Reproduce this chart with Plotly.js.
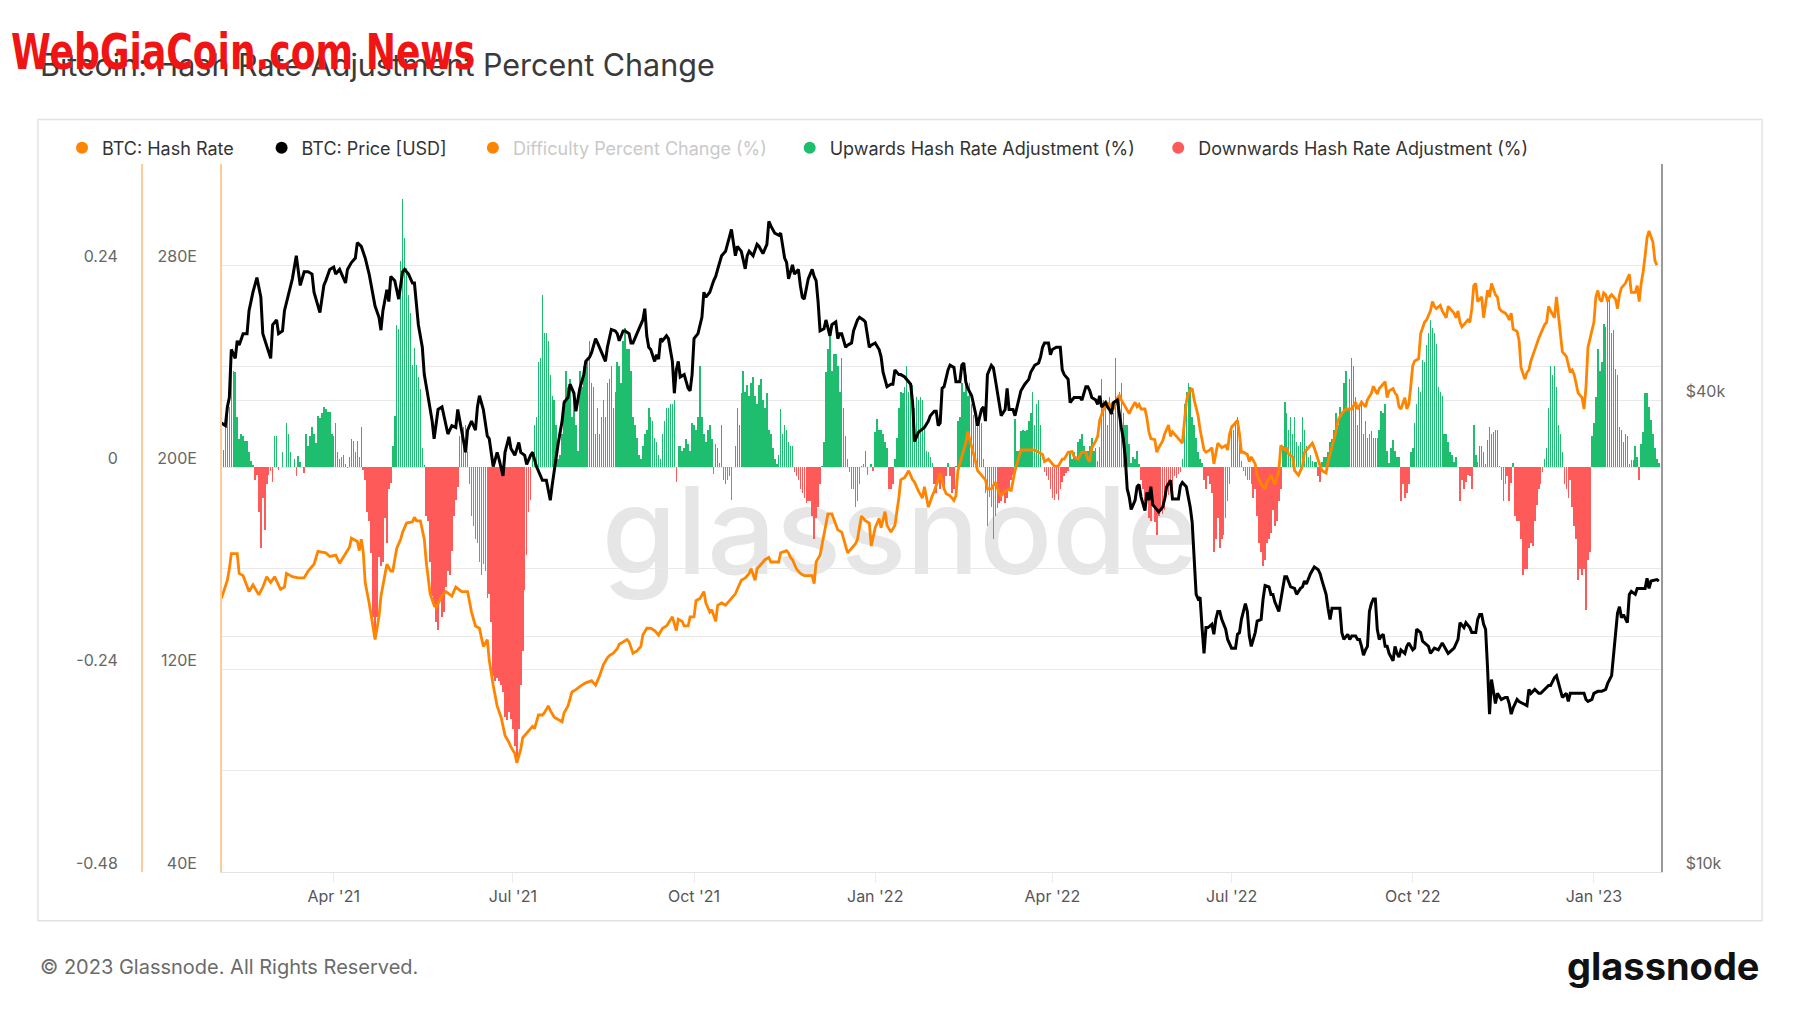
<!DOCTYPE html>
<html>
<head>
<meta charset="utf-8">
<script src="https://cdn.plot.ly/plotly-3.0.1.min.js"></script>
<style>
html,body{margin:0;padding:0;background:#ffffff;}
#chart{width:1800px;height:1013px;}
</style>
</head>
<body>
<div id="chart"></div>
<script>
// ---------------- DATA ----------------
const startDate = [2021, 1, 3]; // 2021-02-03, day 0 of the series below

// BTC: Hash Rate [EH/s]  -> [day offset, value]
const hashRateSeries = [[0,148.2],[3,155.4],[4,159.9],[5,165.9],[8,165.9],[9,158.1],[11,157.2],[14,150.9],[16,153.6],[19,149.6],[21,152.7],[23,156.8],[25,154.5],[27,156.8],[30,151.8],[32,152.7],[33,158.1],[36,156.8],[39,156.3],[42,156.3],[44,159.0],[47,161.7],[49,166.8],[53,166.2],[55,164.8],[58,165.3],[60,162.1],[63,166.2],[65,168.4],[66,172.0],[69,170.7],[70,167.1],[71,171.6],[72,166.6],[73,154.5],[75,146.4],[76,141.0],[78,131.9],[80,141.0],[81,149.1],[84,161.7],[86,159.0],[87,159.0],[89,168.0],[91,171.6],[92,174.4],[94,178.0],[97,178.5],[98,180.3],[99,178.9],[101,178.9],[103,171.6],[104,162.6],[106,150.0],[108,145.5],[109,144.6],[112,149.1],[114,150.9],[117,149.1],[119,152.7],[122,150.9],[125,150.9],[127,142.8],[129,137.3],[131,136.4],[133,129.2],[135,131.9],[136,123.8],[138,113.9],[140,105.7],[142,101.2],[144,94.0],[146,91.3],[147,89.5],[149,86.8],[150,83.2],[152,88.6],[153,93.1],[155,94.9],[158,97.6],[159,96.7],[161,102.1],[163,102.1],[164,103.0],[166,105.7],[167,103.9],[169,101.2],[171,100.3],[173,99.4],[174,103.0],[176,105.7],[178,111.2],[180,112.1],[183,113.9],[185,114.8],[188,115.7],[190,113.9],[192,117.5],[194,122.0],[196,124.7],[197,125.6],[199,126.5],[201,128.3],[202,130.1],[204,131.0],[206,131.9],[207,131.0],[209,126.5],[211,127.4],[213,129.2],[214,133.7],[216,136.4],[218,136.4],[220,135.5],[222,133.7],[224,136.4],[226,137.3],[228,140.0],[229,140.9],[231,135.5],[232,140.0],[234,139.1],[235,137.3],[237,137.3],[238,140.9],[240,140.9],[241,147.3],[243,148.2],[245,150.9],[246,146.4],[248,142.8],[249,143.7],[251,139.1],[252,145.5],[254,146.4],[256,145.5],[257,146.4],[259,148.2],[261,150.0],[262,151.8],[264,155.4],[266,156.3],[268,158.1],[269,159.9],[271,155.4],[272,159.9],[274,161.7],[276,163.5],[278,164.4],[279,162.6],[281,162.6],[283,162.6],[284,166.2],[287,167.1],[288,166.2],[289,164.4],[290,163.5],[292,159.9],[294,158.1],[296,157.2],[298,157.2],[300,157.2],[301,154.0],[302,162.6],[304,165.3],[306,173.5],[308,181.6],[310,181.6],[312,177.1],[313,175.3],[315,174.4],[317,168.9],[318,166.2],[320,168.0],[322,169.8],[323,171.6],[325,180.7],[327,178.9],[329,178.0],[330,168.9],[332,176.2],[334,179.8],[335,176.2],[337,182.5],[338,177.1],[340,174.4],[342,177.1],[344,187.9],[345,195.1],[347,196.0],[349,198.7],[351,195.1],[352,194.2],[354,190.6],[356,187.9],[357,192.4],[359,184.3],[361,188.8],[362,190.6],[364,195.1],[365,197.8],[367,191.5],[368,189.7],[370,188.8],[372,187.0],[373,188.8],[374,198.7],[376,204.2],[378,209.6],[379,214.1],[380,211.4],[381,207.8],[383,202.3],[384,198.7],[386,196.9],[388,195.1],[389,191.5],[391,191.5],[393,194.2],[395,189.7],[396,188.8],[398,190.6],[400,191.5],[401,190.6],[403,198.7],[405,204.2],[406,206.9],[408,206.9],[410,206.9],[411,206.9],[413,206.9],[415,206.0],[417,205.1],[418,202.3],[420,203.3],[422,201.4],[423,200.5],[425,200.5],[427,203.3],[428,203.3],[430,206.0],[432,206.3],[433,204.2],[435,203.3],[437,206.0],[439,206.0],[440,203.3],[441,202.3],[442,207.8],[444,210.5],[445,212.3],[446,218.6],[447,221.3],[448,223.1],[450,225.8],[451,224.0],[452,224.9],[453,223.1],[455,227.6],[456,228.5],[457,226.7],[459,224.0],[460,223.1],[461,221.3],[462,223.1],[464,225.8],[465,224.0],[466,224.9],[467,223.1],[469,223.1],[470,219.5],[471,214.1],[472,211.4],[474,211.0],[475,206.0],[476,207.8],[478,210.5],[479,213.2],[481,216.8],[482,212.3],[483,214.1],[485,212.3],[487,210.5],[488,209.6],[490,225.8],[491,229.4],[493,231.2],[494,226.7],[496,220.4],[497,215.0],[499,206.9],[500,206.0],[502,206.9],[503,207.8],[504,201.4],[505,206.0],[506,209.6],[507,208.7],[508,207.8],[510,208.7],[511,206.9],[512,213.2],[513,215.9],[515,217.7],[516,218.6],[517,213.2],[518,206.0],[519,206.0],[521,205.1],[522,202.3],[523,204.2],[525,201.4],[526,196.9],[527,195.1],[528,193.3],[530,191.5],[531,194.2],[533,196.9],[534,195.1],[535,193.3],[537,198.7],[538,208.7],[540,206.9],[541,207.8],[542,205.1],[544,204.2],[545,198.7],[547,196.9],[549,200.5],[550,206.0],[552,207.8],[554,209.6],[555,207.8],[557,202.3],[558,200.5],[559,198.7],[561,197.8],[562,202.3],[564,207.8],[566,214.1],[567,218.6],[569,221.3],[571,223.1],[572,223.1],[574,223.1],[576,225.8],[577,223.1],[579,225.8],[581,224.0],[582,226.7],[584,229.4],[585,232.1],[587,229.0],[588,231.2],[590,233.0],[591,233.9],[592,227.6],[593,230.3],[595,231.2],[596,229.4],[597,228.5],[598,224.0],[599,223.1],[601,227.6],[602,223.1],[603,224.9],[604,232.1],[605,240.3],[606,242.1],[608,243.0],[609,252.9],[611,257.4],[612,258.3],[614,261.9],[615,265.6],[616,263.7],[617,262.8],[618,263.4],[619,264.1],[620,261.9],[622,259.2],[623,263.7],[624,262.8],[626,261.0],[627,259.2],[628,261.9],[629,257.4],[630,255.6],[631,256.5],[633,258.3],[634,257.4],[635,262.8],[636,271.9],[637,272.8],[638,265.6],[640,267.4],[641,259.2],[642,265.6],[643,270.1],[644,267.4],[645,272.8],[647,268.3],[648,267.4],[649,262.8],[650,261.9],[652,261.0],[653,260.1],[654,258.3],[655,261.0],[656,254.7],[658,253.8],[659,250.2],[660,239.4],[662,234.9],[663,237.6],[664,238.5],[665,242.1],[667,246.6],[668,249.3],[669,251.1],[670,252.9],[672,256.5],[673,257.4],[674,263.7],[675,261.9],[677,259.2],[678,267.4],[679,260.1],[680,253.8],[681,245.7],[683,243.9],[684,241.2],[685,237.6],[686,238.5],[687,236.7],[689,229.4],[690,228.5],[691,227.6],[692,223.1],[693,232.0],[694,247.5],[696,254.7],[697,257.4],[698,267.4],[699,270.0],[700,266.5],[701,265.6],[702,269.0],[703,268.3],[704,265.6],[705,267.4],[706,268.3],[708,266.5],[709,262.8],[710,268.3],[711,271.0],[713,272.8],[714,274.6],[715,276.4],[716,269.2],[718,269.2],[719,271.9],[720,265.6],[721,272.8],[722,277.3],[723,283.6],[724,290.8],[725,293.5],[726,290.8],[727,289.0],[728,281.8],[729,280.0]];

// BTC: Price [USD]  -> [day offset, value]
const priceSeries = [[0,37400],[2,37100],[3,39200],[4,40300],[5,46400],[7,45200],[8,47600],[9,47000],[11,48600],[13,48600],[14,52000],[16,54900],[18,57300],[20,54100],[21,48600],[23,46700],[25,45200],[26,49900],[28,50600],[29,48600],[31,49000],[32,52000],[34,54500],[36,57100],[38,61100],[40,56000],[42,58300],[44,58300],[46,57900],[47,54900],[50,51700],[52,56000],[53,56800],[55,58700],[57,59100],[58,57900],[60,58700],[63,56400],[64,58700],[66,59900],[68,60700],[69,63500],[71,62800],[73,60700],[75,57900],[76,56000],[78,52700],[80,51000],[81,49100],[82,52000],[84,55300],[85,53400],[86,57500],[88,56800],[90,53800],[92,58300],[93,58700],[95,57900],[97,56400],[98,56400],[100,49900],[102,46700],[103,43100],[105,40300],[107,37600],[108,35700],[110,38900],[112,39200],[114,37400],[115,36200],[117,37100],[119,36900],[120,38900],[122,36600],[124,34300],[125,36600],[127,37600],[129,36600],[130,39200],[131,40500],[133,38900],[135,36000],[136,35700],[138,32900],[140,34300],[141,33600],[143,32000],[144,34300],[146,35900],[147,34700],[149,34000],[151,35300],[152,34300],[154,34000],[155,33100],[157,34000],[158,34300],[160,32900],[162,32000],[163,31600],[165,31600],[167,29800],[168,31200],[169,32500],[171,35200],[173,37600],[174,39700],[176,40300],[177,41900],[179,40800],[180,38700],[182,41400],[184,43100],[185,44800],[187,45400],[188,46000],[190,47900],[191,47300],[193,46000],[195,44800],[196,46700],[198,49200],[200,49000],[201,48600],[202,47600],[204,49000],[205,49000],[207,48600],[208,47300],[209,47300],[211,48600],[213,49900],[214,50600],[215,52300],[216,48300],[217,46700],[218,46400],[220,44800],[221,45700],[222,45100],[223,47900],[224,47600],[226,48300],[227,47900],[229,44800],[230,40800],[231,43700],[232,44800],[233,42800],[235,43100],[237,41400],[238,41100],[239,43100],[240,47900],[242,48600],[244,51000],[245,54900],[246,54100],[248,54900],[250,56800],[251,57500],[252,58700],[254,61100],[256,61900],[257,63200],[259,66000],[261,61100],[262,62800],[264,61900],[266,58800],[267,61100],[268,61900],[270,61100],[272,63200],[273,62800],[275,61500],[277,63200],[278,67600],[279,66700],[281,65300],[283,64900],[284,65300],[286,60700],[287,59900],[288,57100],[290,59500],[291,57900],[293,58700],[294,56000],[295,54100],[296,53800],[298,57100],[299,57900],[300,58700],[301,57500],[302,56800],[303,53400],[304,49000],[306,49300],[307,50600],[309,48300],[310,49900],[312,50300],[313,47900],[314,48600],[315,48600],[317,46700],[318,47000],[320,47300],[321,49000],[323,50600],[324,51000],[326,50600],[327,50300],[329,46700],[330,47000],[332,47300],[334,46400],[335,45400],[336,43400],[338,41600],[340,41900],[341,41900],[342,43700],[344,43100],[345,43100],[347,42800],[348,42500],[350,41900],[351,39700],[352,35400],[354,36400],[355,36600],[357,36900],[359,37600],[360,38200],[362,38700],[363,38700],[364,37100],[365,37400],[366,41400],[367,41600],[369,43700],[370,44300],[372,44000],[373,42200],[375,42200],[376,44300],[377,44600],[378,42200],[379,41400],[381,40500],[383,38400],[384,37100],[386,38900],[387,39200],[388,37600],[389,43100],[391,44300],[392,44000],[393,42500],[395,39700],[396,38200],[398,38900],[399,41400],[400,38900],[402,38900],[403,38200],[404,39200],[406,41100],[408,41900],[410,42500],[411,43400],[413,44300],[415,44600],[416,45400],[417,46700],[418,47300],[420,47300],[421,45700],[422,46400],[424,46700],[426,46700],[427,43700],[428,43100],[430,42500],[431,39700],[433,40300],[434,40300],[436,40300],[437,40000],[439,41600],[440,41600],[441,41100],[442,40300],[444,40000],[445,39500],[446,40500],[447,39200],[449,39700],[450,39200],[451,38900],[452,38400],[453,39700],[455,40000],[456,38200],[457,36900],[458,35700],[459,33800],[460,30800],[461,30100],[462,29000],[463,29400],[464,29800],[465,31000],[466,31200],[467,30100],[469,28900],[470,30500],[471,29800],[472,31000],[473,29400],[474,29200],[476,28800],[478,29200],[479,29900],[480,31000],[482,31600],[483,29900],[484,29900],[486,29900],[487,31100],[488,31400],[490,31000],[491,30100],[492,29200],[493,27900],[494,25300],[495,22600],[496,22300],[497,22400],[498,20500],[499,19000],[500,20500],[501,20500],[503,20700],[504,20100],[505,21000],[506,21500],[507,21500],[508,21000],[510,20400],[511,19800],[513,19300],[515,19300],[516,20100],[517,20200],[518,21000],[520,22000],[521,21500],[522,20000],[523,19400],[525,20200],[526,20900],[528,21000],[529,22300],[530,23200],[532,23100],[533,22600],[534,22600],[535,22100],[537,21500],[538,22300],[540,23800],[541,23800],[542,23500],[543,23100],[545,23000],[546,22600],[548,23000],[549,23100],[550,23500],[551,23300],[553,24000],[554,24300],[555,24500],[557,24300],[558,24000],[559,23500],[561,22600],[562,21700],[563,21000],[564,21700],[565,21700],[567,21700],[568,21700],[569,20200],[570,19800],[572,20100],[573,19800],[574,20000],[576,20000],[577,19800],[578,19800],[579,19400],[580,18900],[581,19200],[582,19400],[583,21500],[584,22000],[585,22300],[586,22300],[587,20400],[588,19800],[589,20000],[590,20100],[591,19400],[592,19400],[593,19000],[595,18600],[596,19400],[597,19000],[598,18800],[599,19200],[601,19000],[602,19400],[603,19600],[605,19200],[606,19300],[607,20400],[609,20200],[610,19700],[611,19600],[613,19400],[614,19000],[616,19300],[618,19200],[619,19400],[620,19600],[622,19200],[623,19000],[625,19200],[626,19300],[628,19800],[629,20800],[631,20500],[632,20800],[634,20500],[635,20200],[637,20200],[638,21000],[639,21300],[640,21300],[641,20700],[642,20400],[643,18200],[644,15900],[645,17600],[646,17000],[647,16400],[648,16900],[650,16600],[652,16700],[653,16700],[654,16400],[655,15900],[656,16200],[658,16600],[659,16500],[661,16400],[663,16300],[664,17100],[665,16900],[667,17100],[669,16900],[670,16900],[672,17100],[674,17300],[675,17300],[677,17700],[678,17800],[680,17000],[681,16700],[683,16900],[684,16500],[685,16900],[686,16900],[688,16900],[690,16900],[692,16900],[693,16600],[694,16500],[696,16600],[697,16900],[699,17000],[701,17000],[703,17100],[704,17400],[706,17800],[707,18900],[708,20000],[709,21400],[710,21800],[711,21100],[712,21300],[714,20800],[715,22600],[716,22800],[718,22600],[719,23000],[721,23000],[722,23000],[723,23000],[724,23700],[725,23000],[726,23500],[728,23600],[729,23600],[730,23500]];

// Hash Rate Adjustment (%) - one value per day from startDate
const adjustmentPct = [
0.02,0.021,0.05,0.072,0.072,0.126,0.115,0.113,0.06,0.034,
0.04,0.037,0.031,0.031,0.018,0.008,0.003,-0.015,-0.009,-0.053,
-0.095,-0.036,-0.074,-0.02,-0.009,-0.004,-0.017,0.037,0.037,-0.003,
0,0.018,0,0.053,0.04,0.018,0,0.01,-0.01,0.013,
0.007,0,-0.007,0.04,0.026,0.037,0.048,0.04,0.029,0.061,
0.059,0.064,0.072,0.069,0.066,0.066,0.04,0.037,0.053,0.018,
0.01,0.012,0.015,0.004,-0.001,0.012,0.034,0.031,0.018,0.031,
0.012,0.048,-0.003,-0.015,-0.053,-0.063,-0.101,-0.177,-0.204,-0.177,
-0.106,-0.117,-0.112,-0.06,-0.09,-0.026,-0.018,0.026,0.061,0.169,
0.164,0.245,0.318,0.272,0.237,0.205,0.183,0.121,0.142,0.121,
0.107,0.093,0.023,0.003,-0.058,-0.063,-0.112,-0.153,-0.166,-0.183,
-0.193,-0.155,-0.177,-0.171,-0.142,-0.123,-0.128,-0.099,-0.058,-0.039,
-0.023,0.037,0.037,0.048,0.05,0.018,-0.02,-0.058,-0.069,-0.085,
-0.09,-0.112,-0.128,-0.115,-0.123,-0.155,-0.15,-0.183,-0.248,-0.253,
-0.25,-0.253,-0.258,-0.267,-0.296,-0.3,-0.29,-0.299,-0.31,-0.33,
-0.345,-0.31,-0.258,-0.218,-0.145,-0.104,-0.053,-0.039,0.02,0.05,
0.06,0.125,0.13,0.205,0.16,0.16,0.15,0.11,0.085,0.08,
0.05,0.01,0.015,0.04,0.08,0.115,0.095,0.105,0.06,0.09,
0.05,0.02,0.115,0.095,0.12,0.12,0.125,0.15,0.1,0.095,
0.04,0.07,0.04,0.06,0.08,0.06,0.1,0.105,0.12,0.07,
0.09,0.125,0.12,0.1,0.15,0.165,0.14,0.14,0.115,0.06,
0.05,0.035,0.015,0.01,0.025,0.04,0.045,0.07,0.06,0.055,
0.035,0.03,0.015,0.01,0.04,0.055,0.07,0.07,0.075,0.075,
0.08,-0.017,0.026,0.026,0.02,0.023,0.034,0.028,0.02,0.053,
0.05,0.045,0.06,0.12,0.06,0.04,0.03,0.045,0.05,0.034,
-0.008,0.028,0.023,0.005,0.05,-0.015,-0.02,-0.015,-0.01,-0.039,
0,0.026,0.07,0.05,0.088,0.115,0.09,0.098,0.085,0.1,
0.107,0.085,0.075,0.098,0.105,0.08,0.07,0.088,0.045,0.04,
0.023,0.01,0.004,0.015,0.069,0.04,0.05,0.045,0.03,0.026,
0.026,-0.005,-0.01,-0.015,-0.025,-0.03,-0.036,-0.042,-0.04,-0.04,
-0.058,-0.085,-0.06,-0.047,-0.02,0.002,0.03,0.113,0.14,0.16,
0.115,0.135,0.135,0.12,0.09,0.13,0.07,0.037,0.01,-0.005,
-0.025,-0.025,-0.047,-0.04,-0.02,0.002,0.004,0.02,-0.009,0,
0.004,-0.004,0.042,0.058,0.045,0.045,0.04,0.03,0.023,-0.025,
-0.025,-0.02,0.01,0.035,0.07,0.09,0.088,0.095,0.12,0.09,
0.095,0.098,0.07,0.083,0.08,0.083,0.08,0.05,0.02,0.018,
0.012,0.005,-0.02,-0.03,-0.012,-0.025,-0.015,-0.025,-0.01,0.005,
-0.01,-0.03,-0.025,0.002,0.055,0.06,0.1,0.09,0.11,0.085,
0.1,0.075,0.062,0.06,0.055,0.06,0.053,0.01,-0.03,-0.07,
-0.035,-0.047,-0.085,-0.058,-0.048,-0.042,-0.04,-0.031,-0.042,-0.036,
-0.025,-0.015,-0.009,0.058,0.02,0.02,0.043,0.045,0.043,0.045,
0.055,0.065,0.09,0.05,0.075,0.08,0.05,0,-0.005,-0.01,
-0.015,-0.025,-0.036,-0.039,-0.031,-0.039,-0.025,-0.017,-0.01,-0.007,
-0.004,0.018,0.01,0.018,0.012,0.03,0.034,0.04,0.025,0.02,
0.02,0.025,0.035,0.02,0.023,0.008,0.024,0.105,0.08,0.077,
0.05,0.083,0.07,0.065,0.13,0.08,0.09,0.1,0.065,0.05,
0.05,0.028,0.005,0.012,0.01,0.02,0.004,-0.015,-0.025,-0.04,
-0.03,-0.06,-0.063,-0.045,-0.065,-0.08,-0.058,-0.048,-0.055,-0.05,
-0.035,-0.033,-0.02,-0.03,-0.01,-0.012,-0.008,-0.006,0.01,0.075,
0.09,0.1,0.095,0.06,0.05,0.035,0.018,0.01,0.005,-0.015,
-0.025,-0.01,-0.02,-0.03,-0.1,-0.085,-0.06,-0.095,-0.085,-0.08,
-0.06,-0.04,-0.02,0.05,0.045,0.055,0.06,0.03,0.008,-0.004,
-0.01,-0.015,-0.015,-0.02,-0.036,-0.025,-0.058,-0.09,-0.1,-0.117,
-0.11,-0.09,-0.085,-0.078,-0.05,-0.069,-0.063,-0.04,-0.025,0.025,
0.078,0.065,0.045,0.06,0.04,0.06,0.03,0.025,0.03,0.06,
0.045,0.025,0.012,0.015,0.008,0.007,0.006,-0.01,-0.017,0.007,
0.012,0.012,0.018,0.03,0.034,0.045,0.065,0.05,0.072,0.065,
0.1,0.115,0.07,0.105,0.13,0.12,0.083,0.05,0.075,0.08,
0.04,0.055,0.035,0.04,0.043,0.035,0.035,0.035,0.045,0.067,
0.065,0.075,0.02,0.005,0.023,0.032,0.02,0.012,0.012,-0.04,
-0.02,-0.036,-0.03,-0.02,0.018,0.023,0.053,0.075,0.095,0.09,
0.128,0.125,0.145,0.16,0.175,0.165,0.16,0.147,0.095,0.09,
0.085,0.04,0.04,0.03,0.018,0.015,0.007,0.012,0.001,-0.04,
-0.015,-0.025,-0.017,-0.009,-0.01,-0.025,0.05,0.015,0.007,0.026,
0.026,0.018,0.004,0.032,0.048,0.04,0.042,0.045,0.045,0.002,
-0.015,-0.04,-0.02,-0.01,-0.04,-0.018,0.005,-0.058,-0.063,-0.063,
-0.085,-0.128,-0.12,-0.12,-0.096,-0.09,-0.093,-0.063,-0.045,-0.025,
-0.02,-0.005,0.01,0.023,0.07,0.12,0.11,0.12,0.095,0.05,
0.04,0.018,-0.02,-0.025,-0.036,-0.015,-0.047,-0.069,-0.085,-0.134,
-0.12,-0.128,-0.12,-0.169,-0.11,-0.1,0.037,0.053,0.083,0.14,
0.115,0.125,0.17,0.167,0.2,0.205,0.16,0.163,0.117,0.11,
0.048,0.045,0.03,0.04,0.037,0.004,0.009,0.009,0.026,0.012,
-0.015,0.028,0.042,0.088,0.088,0.072,0.056,0.04,0.023,0.01,0.005
];

// axis ticks
const xTickDates = ['2021-04-01','2021-07-01','2021-10-01','2022-01-01','2022-04-01','2022-07-01','2022-10-01','2023-01-01'];
const xTickLabels = ["Apr '21","Jul '21","Oct '21","Jan '22","Apr '22","Jul '22","Oct '22","Jan '23"];
const pctTickVals = [-0.48,-0.36,-0.24,-0.12,0,0.12,0.24,0.36];
const pctTickText = ['-0.48','','-0.24','','0','','0.24',''];
const hashTickVals = [40,120,200,280];
const hashTickText = ['40E','120E','200E','280E'];
const priceTickVals = [10000,20000,40000];
const priceTickText = ['$10k','','$40k'];

const legendNames = ['BTC: Hash Rate','BTC: Price [USD]','Difficulty Percent Change (%)','Upwards Hash Rate Adjustment (%)','Downwards Hash Rate Adjustment (%)'];

// ---------------- BUILD ----------------
const DAY = 86400000;
const t0 = Date.UTC(startDate[0], startDate[1], startDate[2]);
function dayToDate(d){
  const s = new Date(t0 + d*DAY).toISOString();
  return s.slice(0,10) + ' ' + s.slice(11,19);
}
const C_ORANGE = '#ff8400';
const C_GREEN = '#1fbe6e';
const C_RED = '#ff5a5a';
const FONT = 'Inter, Roboto, "Open Sans", sans-serif';

const barX = adjustmentPct.map((v,i)=>dayToDate(i));
const upY = adjustmentPct.map(v => v > 0 ? v : null);
const downY = adjustmentPct.map(v => v < 0 ? v : null);
const barW = 0.78*DAY;

const traces = [
  {type:'bar', x:barX, y:upY, width:barW, marker:{color:C_GREEN, line:{width:0}}, xaxis:'x', yaxis:'y', showlegend:false, hoverinfo:'skip'},
  {type:'bar', x:barX, y:downY, width:barW, marker:{color:C_RED, line:{width:0}}, xaxis:'x', yaxis:'y', showlegend:false, hoverinfo:'skip'},
  {type:'scatter', mode:'lines', x:hashRateSeries.map(p=>dayToDate(p[0])), y:hashRateSeries.map(p=>p[1]), line:{color:C_ORANGE, width:2.8}, xaxis:'x', yaxis:'y2', showlegend:false, hoverinfo:'skip'},
  {type:'scatter', mode:'lines', x:priceSeries.map(p=>dayToDate(p[0])), y:priceSeries.map(p=>p[1]), line:{color:'#000000', width:3}, xaxis:'x', yaxis:'y3', showlegend:false, hoverinfo:'skip'}
];
// legend entries (one legend box per entry so that their spacing matches)
const legendColors = [C_ORANGE, '#000000', C_ORANGE, C_GREEN, C_RED];
const legendX = [-0.02375, 0.10100, 0.23306, 0.43106, 0.66138];
legendNames.forEach((n,i)=>{
  traces.push({type:'scatter', mode:'markers', x:[null], y:[null], xaxis:'x', yaxis:'y',
    name: i===2 ? '<span style="color:#c9c9c9">'+n+'</span>' : n,
    marker:{color:legendColors[i], size:12},
    legend: i===0 ? 'legend' : 'legend'+(i+1), showlegend:true, hoverinfo:'skip'});
});

// pixel helpers for paper coords (plot area: x 100..1700, y 164..872)
const PX = px => (px-100)/1600;
const PY = py => (872-py)/708;

const layout = {
  width:1800, height:1013,
  margin:{l:100, r:100, t:164, b:141, pad:0},
  paper_bgcolor:'#ffffff', plot_bgcolor:'rgba(0,0,0,0)',
  font:{family:FONT, color:'#333'},
  barmode:'overlay', bargap:0,
  hovermode:false,
  xaxis:{type:'date', domain:[PX(221.6), PX(1661)], range:['2021-02-03 01:40','2023-02-04 02:00'],
    tickvals:xTickDates, ticktext:xTickLabels, ticks:'outside', ticklen:10, tickcolor:'#ececec', tickwidth:1,
    tickfont:{family:FONT, size:16, color:'#555'}, showgrid:false, zeroline:false,
    showline:true, linecolor:'#e3e3e3', linewidth:1, anchor:'y', fixedrange:true},
  yaxis:{range:[-0.48,0.36], tickvals:pctTickVals, ticktext:pctTickText, anchor:'free', position:PX(141), side:'left',
    showline:true, linecolor:'#ffcc99', linewidth:1.5, showgrid:true, gridcolor:'#e9e9e9', gridwidth:1, zeroline:false,
    ticks:'', ticklabelstandoff:20, ticklabelshift:-9,
    tickfont:{family:FONT, size:16, color:'#666'}, fixedrange:true},
  yaxis2:{range:[40,320], tickvals:hashTickVals, ticktext:hashTickText, overlaying:'y', anchor:'x', side:'left',
    showline:true, linecolor:'#ffcc99', linewidth:1.5, showgrid:false, zeroline:false,
    ticks:'', ticklabelstandoff:20, ticklabelshift:-9,
    tickfont:{family:FONT, size:16, color:'#666'}, fixedrange:true},
  yaxis3:{type:'log', range:[4, Math.log10(80000)], tickvals:priceTickVals, ticktext:priceTickText, overlaying:'y', anchor:'x', side:'right',
    showline:true, linecolor:'#9a9a9a', linewidth:1.5, showgrid:true, gridcolor:'#e9e9e9', gridwidth:1, zeroline:false,
    ticks:'', ticklabelstandoff:20, ticklabelshift:-9,
    tickfont:{family:FONT, size:16, color:'#666'}, fixedrange:true},
  shapes:[
    {type:'rect', xref:'paper', yref:'paper', x0:PX(38), x1:PX(1762), y0:PY(920.7), y1:PY(119.4),
      line:{color:'#e2e2e2', width:1.5}, fillcolor:'rgba(0,0,0,0)', layer:'below'},
    {type:'rect', xref:'paper', yref:'paper', x0:PX(600), x1:PX(1200), y0:PY(600), y1:PY(452),
      line:{width:0}, fillcolor:'rgba(0,0,0,0)', layer:'below',
      label:{text:'glassnode', textposition:'middle center', font:{family:FONT, size:121, color:'#e6e6e6', weight:500}}}
  ],
  annotations:[
    {xref:'paper', yref:'paper', x:PX(38), y:PY(64), xanchor:'left', yanchor:'middle', showarrow:false,
      text:'Bitcoin: Hash Rate Adjustment Percent Change', font:{family:FONT, size:30.5, color:'#3a3a3a'}},
    {xref:'paper', yref:'paper', x:PX(9), y:PY(52), xanchor:'left', yanchor:'middle', showarrow:false,
      text:'<b>WebGiaCoin.com News</b>', font:{family:'"DejaVu Sans", sans-serif', size:50, color:'#f01414'}},
    {xref:'paper', yref:'paper', x:PX(38), y:PY(966.6), xanchor:'left', yanchor:'middle', showarrow:false,
      text:'© 2023 Glassnode. All Rights Reserved.', font:{family:FONT, size:20, color:'#6b6b6b'}},
    {xref:'paper', yref:'paper', x:PX(1762), y:PY(966), xanchor:'right', yanchor:'middle', showarrow:false,
      text:'glassnode', font:{family:FONT, size:38, color:'#111111', weight:700}}
  ]
};
const legendBase = {y:PY(148), yanchor:'middle', xanchor:'left', orientation:'h', bgcolor:'rgba(0,0,0,0)', borderwidth:0,
  font:{family:FONT, size:18, color:'#333'}, itemwidth:30, itemclick:false, itemdoubleclick:false};
layout.legend = Object.assign({}, legendBase, {x:legendX[0]});
for (let i=1;i<5;i++){ layout['legend'+(i+1)] = Object.assign({}, legendBase, {x:legendX[i]}); }

Plotly.newPlot('chart', traces, layout, {displayModeBar:false, staticPlot:true}).then(gd => {
  // condense the red overlay text horizontally to the reference's width (464 px)
  gd.querySelectorAll('.annotation-text').forEach(t => {
    if (t.textContent.indexOf('WebGiaCoin') >= 0) {
      const w = t.getBBox().width;
      const s = w > 0 ? Math.min(1, 464 / w) : 0.8;
      t.style.transformBox = 'fill-box';
      t.style.transformOrigin = 'left center';
      t.style.transform = 'scaleX(' + s.toFixed(3) + ')';
    }
  });
});
</script>
</body>
</html>
